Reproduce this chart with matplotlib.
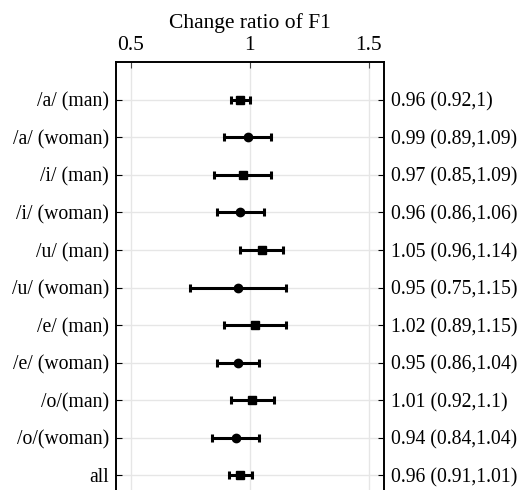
import matplotlib.pyplot as plt

plt.rcParams["font.family"] = ["Liberation Serif", "DejaVu Serif"]
plt.rcParams["font.size"] = 14.2

LABELS = ["/a/ (man)", "/a/ (woman)", "/i/ (man)", "/i/ (woman)", "/u/ (man)",
          "/u/ (woman)", "/e/ (man)", "/e/ (woman)", "/o/(man)", "/o/(woman)", "all"]
EST = [0.96, 0.99, 0.97, 0.96, 1.05, 0.95, 1.02, 0.95, 1.01, 0.94, 0.96]
LOW = [0.92, 0.89, 0.85, 0.86, 0.96, 0.75, 0.89, 0.86, 0.92, 0.84, 0.91]
HIGH = [1, 1.09, 1.09, 1.06, 1.14, 1.15, 1.15, 1.04, 1.1, 1.04, 1.01]
MARKERS = ["s", "o", "s", "o", "s", "o", "s", "o", "s", "o", "s"]
XTICKS = [0.5, 1, 1.5]

fig = plt.figure(figsize=(5.18, 4.9), dpi=100)
ax = fig.add_axes([0.224, -0.047, 0.517, 0.9205])

ypos = list(range(1, len(LABELS) + 1))
for y, e, lo, hi, m in zip(ypos, EST, LOW, HIGH, MARKERS):
    ax.errorbar(e, y, xerr=[[e - lo], [hi - e]], fmt=m, color="black",
                ms=6, elinewidth=2.2, capsize=3, capthick=2.2, zorder=3)

ax.set_xlim(0.437, 1.563)
ax.set_ylim(12, 0)
ax.set_xticks(XTICKS)
ax.set_xticklabels(["0.5", "1", "1.5"], fontsize=15.5)
ax.set_yticks(ypos)
ax.set_yticklabels(LABELS)
ax.xaxis.tick_top()
ax.xaxis.set_label_position("top")
ax.set_xlabel("Change ratio of F1", fontsize=15.5, labelpad=6)
ax.grid(True, color="#e6e6e6", lw=1, zorder=0)
ax.tick_params(axis="x", direction="in", length=4, pad=5, color="#444444")
ax.tick_params(axis="y", direction="in", length=4, pad=5)
for sp in ax.spines.values():
    sp.set_linewidth(1.2)

ax2 = ax.twinx()
ax2.set_ylim(12, 0)
ax2.set_yticks(ypos)
ax2.set_yticklabels([f"{e:g} ({lo:g},{hi:g})" for e, lo, hi in zip(EST, LOW, HIGH)])
ax2.tick_params(axis="y", direction="in", length=4, pad=5)
for sp in ax2.spines.values():
    sp.set_linewidth(1.2)

fig.savefig("out.png", dpi=100)
